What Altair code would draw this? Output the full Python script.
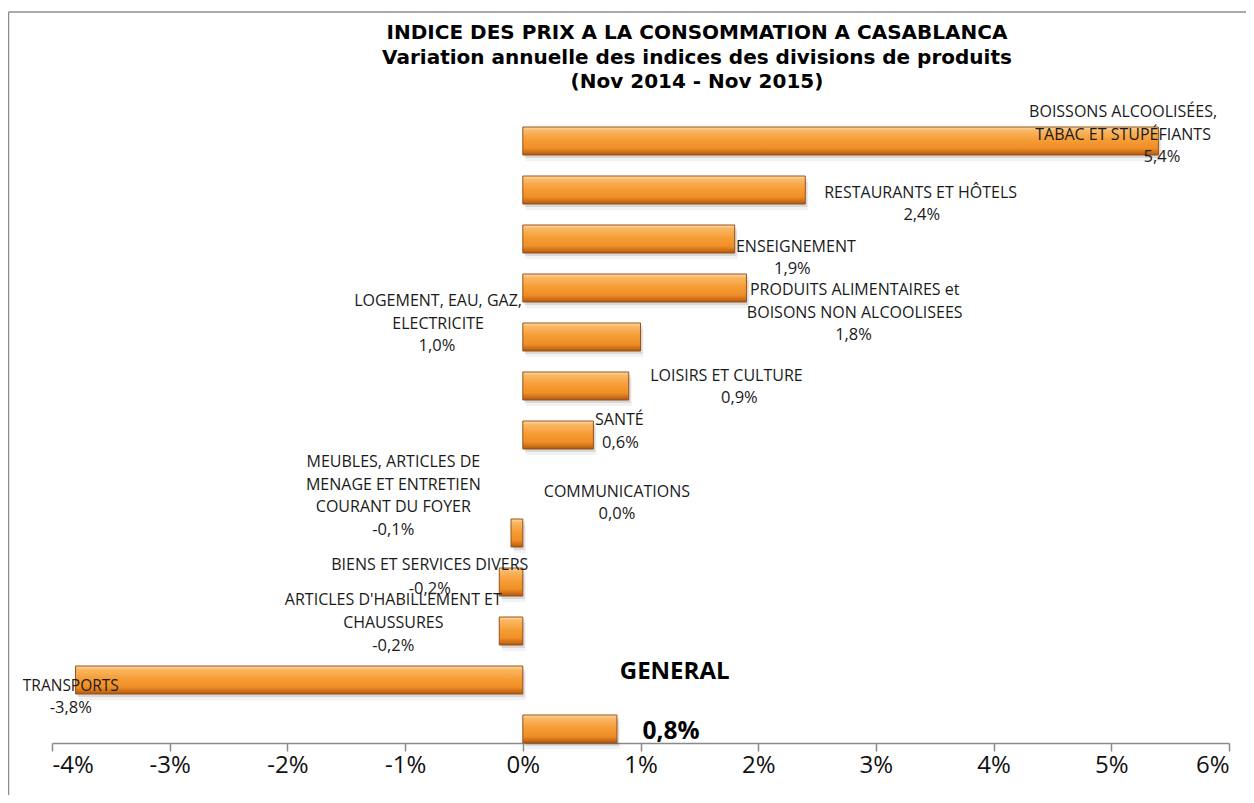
import altair as alt
import pandas as pd

# ---- data ----
CATEGORIES = [
    "BOISSONS ALCOOLISÉES,\nTABAC ET STUPÉFIANTS",
    "RESTAURANTS ET HÔTELS",
    "PRODUITS ALIMENTAIRES et\nBOISONS NON ALCOOLISEES",
    "ENSEIGNEMENT",
    "LOGEMENT, EAU, GAZ,\nELECTRICITE",
    "LOISIRS ET CULTURE",
    "SANTÉ",
    "COMMUNICATIONS",
    "MEUBLES, ARTICLES DE\nMENAGE ET ENTRETIEN\nCOURANT DU FOYER",
    "BIENS ET SERVICES DIVERS",
    "ARTICLES D'HABILLEMENT ET\nCHAUSSURES",
    "TRANSPORTS",
    "GENERAL",
]
VALUES = [5.4, 2.4, 1.8, 1.9, 1.0, 0.9, 0.6, 0.0, -0.1, -0.2, -0.2, -3.8, 0.8]
X_TICKS = [-4, -3, -2, -1, 0, 1, 2, 3, 4, 5, 6]
TITLE_LINES = [
    "INDICE DES PRIX A LA CONSOMMATION A CASABLANCA",
    "Variation annuelle des indices des divisions de produits",
    "(Nov 2014 - Nov 2015)",
]

# ---- label layout (manual label placement, styling only) ----
NAME_X = [5.10, 3.38, 2.82, 2.32, -0.72, 1.73, 0.82, 0.80, -1.10, -0.79, -1.10, -3.84, 1.29]
NAME_DY = [-15, 17, 65, -27, -22, 4, -1, 22, -57, -3, -17, 20, -43]
VAL_X = [5.43, 3.39, 2.81, 2.29, -0.73, 1.84, 0.83, 0.80, -1.10, -0.79, -1.10, -3.84, 1.26]
VAL_DY = [30, 39, 110, -5, 23, 26, 22, 44, 11, 21, 29, 42, 17]
NAME_FS = [16] * 11 + [15.5, 24]

df = pd.DataFrame({
    "cat": [str(i) for i in range(len(CATEGORIES))],
    "name": CATEGORIES,
    "value": VALUES,
    "nx": NAME_X, "ndy": NAME_DY,
    "vx": VAL_X, "vdy": VAL_DY,
    "nfs": NAME_FS,
})
order = list(df["cat"])

FONT = "Open Sans"
TITLE_FONT = "DejaVu Sans"
W, H = 1177, 616

yenc = alt.Y("cat:N", sort=order, axis=None,
             scale=alt.Scale(paddingInner=21 / 49, paddingOuter=0))
xscale = alt.Scale(domain=[-4, 6], nice=False, zero=False)

grad = alt.Gradient(
    gradient="linear",
    stops=[
        alt.GradientStop(color="#fddcaa", offset=0),
        alt.GradientStop(color="#fab866", offset=0.12),
        alt.GradientStop(color="#f69d36", offset=0.45),
        alt.GradientStop(color="#ef8f27", offset=0.75),
        alt.GradientStop(color="#c96a17", offset=0.92),
        alt.GradientStop(color="#a65614", offset=1),
    ],
    x1=0, x2=0, y1=0, y2=1,
)

base = alt.Chart(df)
barbase = base.transform_filter("datum.value != 0")

shadow1 = barbase.mark_bar(color="#000000", opacity=0.10, yOffset=3, y2Offset=3,
                           xOffset=2, x2Offset=2).encode(
    x=alt.X("value:Q", scale=xscale), x2=alt.datum(0), y=yenc)
shadow2 = barbase.mark_bar(color="#000000", opacity=0.05, yOffset=6, y2Offset=6,
                           xOffset=3, x2Offset=3).encode(
    x=alt.X("value:Q", scale=xscale), x2=alt.datum(0), y=yenc)

bars = barbase.mark_bar(color=grad, stroke="#9a5217", strokeWidth=1).encode(
    x=alt.X("value:Q", scale=xscale,
            axis=alt.Axis(values=X_TICKS, title=None, grid=False,
                          labelExpr="(datum.value < 0 ? '-' : '') + abs(datum.value) + '%'",
                          labelFontSize=24, labelFont=FONT, labelColor="#111111",
                          labelPadding=2, tickSize=8, tickColor="#8a8a8a",
                          domainColor="#8a8a8a", domainWidth=1.5, tickWidth=1.5)),
    x2=alt.datum(0),
    y=yenc,
)

lbl = base.transform_calculate(
    vtxt="(datum.value < 0 ? '-' : '') + replace(format(abs(datum.value), '.1f'), '.', ',') + '%'"
)

names = lbl.transform_filter("datum.cat != '12'").mark_text(
    font=FONT, lineBreak="\n", lineHeight=22.5, align="center", baseline="middle",
    color="#1a1a1a").encode(
    x=alt.X("nx:Q", scale=xscale), y=yenc,
    yOffset=alt.YOffset("ndy:Q", scale=None),
    text="name:N", size=alt.Size("nfs:Q", scale=None, legend=None))

vals = lbl.transform_filter("datum.cat != '12'").mark_text(
    font=FONT, fontSize=16.5, align="center", baseline="middle", color="#1a1a1a").encode(
    x=alt.X("vx:Q", scale=xscale), y=yenc,
    yOffset=alt.YOffset("vdy:Q", scale=None),
    text="vtxt:N")

gname = lbl.transform_filter("datum.cat == '12'").mark_text(
    font=FONT, fontSize=24, fontWeight="bold", align="center", baseline="middle",
    color="#000000").encode(
    x=alt.X("nx:Q", scale=xscale), y=yenc,
    yOffset=alt.YOffset("ndy:Q", scale=None), text="name:N")

gval = lbl.transform_filter("datum.cat == '12'").mark_text(
    font=FONT, fontSize=24.5, fontWeight="bold", align="center", baseline="middle",
    color="#000000").encode(
    x=alt.X("vx:Q", scale=xscale), y=yenc,
    yOffset=alt.YOffset("vdy:Q", scale=None), text="vtxt:N")

one = pd.DataFrame({"k": [0]})
title = alt.Chart(one).mark_text(
    font=TITLE_FONT, fontSize=20, fontWeight="bold", align="center", baseline="middle",
    lineHeight=24.5, color="#000000").encode(
    x=alt.value(645), y=alt.value(-94), text=alt.value(TITLE_LINES))

frame_top = alt.Chart(one).mark_rule(color="#8c8c8c", strokeWidth=1.5).encode(
    x=alt.value(-43.5), x2=alt.value(1400), y=alt.value(-115))
frame_left = alt.Chart(one).mark_rule(color="#8c8c8c", strokeWidth=1.5).encode(
    x=alt.value(-43.5), y=alt.value(-115), y2=alt.value(900))

chart = alt.layer(
    frame_top, frame_left, shadow2, shadow1, bars, names, vals, gname, gval, title
).properties(
    width=W, height=H,
    padding={"left": 44, "top": 119, "right": 17, "bottom": 52},
    autosize=alt.AutoSizeParams(type="none"),
    background="white",
).configure_view(stroke=None)

chart.save("out.html", embed_options={"renderer": "svg", "actions": False})
